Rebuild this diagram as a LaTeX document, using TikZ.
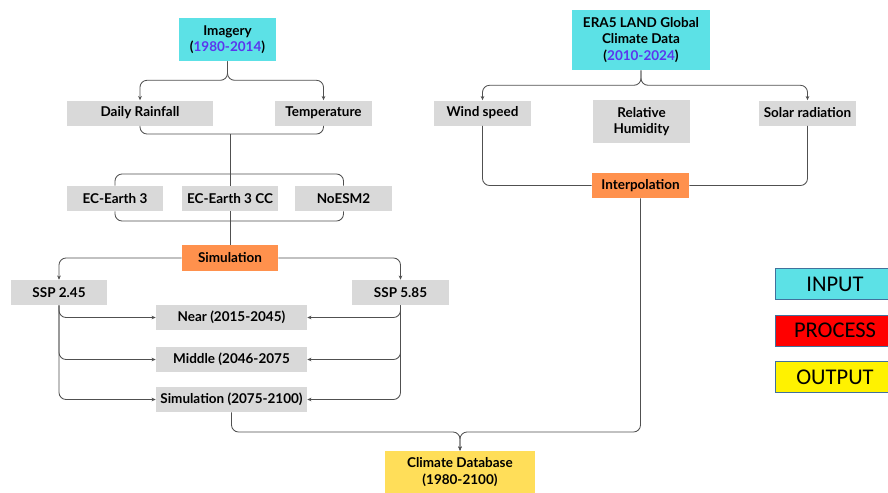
\documentclass[tikz,border=0pt]{standalone}
\usepackage{fontspec}
\setmainfont{Lato}
\newfontfamily\legendfont{Carlito}
\usetikzlibrary{arrows.meta}
\definecolor{inputcyan}{HTML}{5CE1E6}
\definecolor{boxgray}{HTML}{D9D9D9}
\definecolor{procorange}{HTML}{FF914D}
\definecolor{outyellow}{HTML}{FFDE59}
\definecolor{yearblue}{HTML}{5B35EE}
\definecolor{linkgray}{HTML}{505050}
\definecolor{legendedge}{HTML}{41719C}
\def\pxu{0.025cm}

\begin{document}
\begin{tikzpicture}[x=0.025cm,y=-0.025cm,
  box/.style={fill=boxgray,inner sep=0pt,minimum width=97*\pxu,minimum height=25*\pxu,align=center,
    font=\fontsize{9.6}{11.5}\selectfont\bfseries},
  inbox/.style={box,fill=inputcyan},
  procbox/.style={box,fill=procorange},
  outbox/.style={box,fill=outyellow},
  legbox/.style={draw=legendedge,line width=0.6pt,inner sep=0pt,minimum width=120*\pxu,minimum height=31*\pxu,
    font=\legendfont\fontsize{16}{19}\selectfont},
  link/.style={draw=linkgray,line width=0.6pt,rounded corners=5},
  arr/.style={link,-{Stealth[length=3pt,width=2.6pt]}}]
\path[use as bounding box,fill=white] (0,0) rectangle (888,493);
% left column
\node[inbox,minimum height=43*\pxu] (img) at (227.5,39.5) {Imagery\\(\textcolor{yearblue}{1980-2014})};
\node[box,minimum width=146*\pxu] (rain) at (140,113) {Daily Rainfall};
\node[box] (temp) at (323.5,113) {Temperature};
\node[box,minimum width=96*\pxu] (ec3) at (115,198.5) {EC-Earth 3};
\node[box,minimum width=96*\pxu] (eccc) at (230,198.5) {EC-Earth 3 CC};
\node[box] (noresm) at (343.5,198.5) {NoESM2};
\node[procbox,minimum width=96*\pxu,minimum height=26*\pxu] (sim) at (230,258) {Simulation};
\node[box,minimum width=96*\pxu] (ssplow) at (59,292.5) {SSP 2.45};
\node[box] (ssphigh) at (400.5,292.5) {SSP 5.85};
\node[box,minimum width=151*\pxu] (near) at (231.5,317.5) {Near (2015-2045)};
\node[box,minimum width=151*\pxu] (mid) at (231.5,359.5) {Middle (2046-2075};
\node[box,minimum width=151*\pxu] (far) at (231.5,399.5) {Simulation (2075-2100)};
% right column
\node[inbox,minimum width=138*\pxu,minimum height=60*\pxu] (era) at (641,40) {ERA5 LAND Global\\Climate Data\\(\textcolor{yearblue}{2010-2024})};
\node[box] (wind) at (482.5,113) {Wind speed};
\node[box,minimum height=43*\pxu] (hum) at (641.5,121.5) {Relative\\Humidity};
\node[box] (solar) at (807.5,113) {Solar radiation};
\node[procbox] (interp) at (640.5,185.5) {Interpolation};
\node[outbox,minimum width=150*\pxu,minimum height=42*\pxu] (db) at (460,472) {Climate Database\\(1980-2100)};
% legend
\node[legbox,fill=inputcyan] (lin) at (835,284) {INPUT};
\node[legbox,fill=red] (lproc) at (835,330.5) {PROCESS};
\node[legbox,fill=yellow] (lout) at (835,377) {OUTPUT};

\coordinate (jrain) at (230,134);
\coordinate (jec) at (230,174);
\coordinate (jsim) at (230,221);
\coordinate (jdb) at (460,432);

\draw[arr] (img.south) -- ++(0,19) -| (rain.north);
\draw[arr] (img.south) -- ++(0,19) -| (temp.north);
\draw[link] (rain.south) |- (jrain) -| (temp.south);
\draw[link] (jrain) -- (jec);
\draw[link] (ec3.north) |- (jec) -| (noresm.north);
\draw[link] (jec) -- (eccc.north);
\draw[link] (ec3.south) |- (jsim) -| (noresm.south);
\draw[link] (eccc.south) -- (sim.north);
\draw[arr] (sim.west) -| (ssplow.north);
\draw[arr] (sim.east) -| (ssphigh.north);
\foreach \t in {near,mid,far}{
  \draw[arr] (ssplow.south) |- (\t.west);
  \draw[arr] (ssphigh.south) |- (\t.east);
}
\draw[arr] (era.south) -- ++(0,15) -| (wind.north);
\draw[arr] (era.south) -- ++(0,15) -| (solar.north);
\draw[link] (wind.south) |- (interp.west);
\draw[link] (solar.south) |- (interp.east);
\draw[arr] (far.south) |- (jdb) -- (db.north);
\draw[arr] (interp.south) |- (jdb) -- (db.north);
\end{tikzpicture}
\end{document}
